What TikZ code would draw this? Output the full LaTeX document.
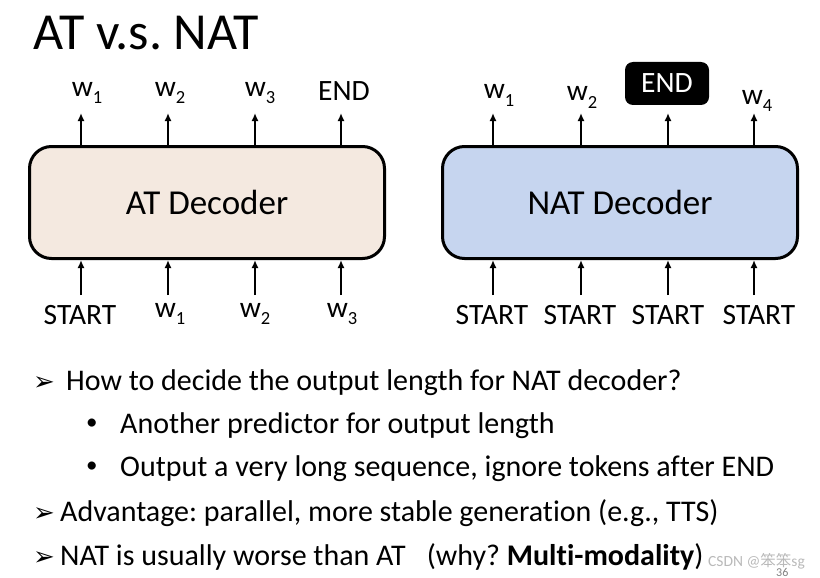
\documentclass[tikz,border=0pt]{standalone}
\usepackage{fontspec}
\setmainfont{Carlito}[Ligatures=NoCommon]
\newfontfamily\symfont{DejaVu Sans}
\newfontfamily\cjkfont{Noto Sans CJK SC}
\usetikzlibrary{arrows.meta}
\definecolor{atfill}{HTML}{F4E9E0}
\definecolor{natfill}{HTML}{C6D5EF}
\newcommand{\wsub}[1]{w\raisebox{-0.24em}{\fontsize{18.5}{20}\selectfont#1}}
\newcommand{\decoder}[4]{
	\node [dec, fill=#3] (#1) at (#2) {#4};}
\frenchspacing

\begin{document}
\begin{tikzpicture}[x=1pt,y=-1pt,
	dec/.style={draw, line width=3pt, rounded corners=22pt, minimum width=355pt, minimum height=112pt, font=\fontsize{35}{40}\selectfont},
	lab/.style={anchor=base, inner sep=0pt, font=\fontsize{29.5}{34}\selectfont},
	txt/.style={anchor=base west, inner sep=0pt, font=\fontsize{30}{34}\selectfont},
	arrowmark/.style={txt, font=\fontsize{26}{30}\selectfont\symfont},
	dot/.style={txt, font=\fontsize{23}{26}\selectfont},
	arr/.style={-{Latex[length=8pt,width=7pt]}, line width=2.4pt}]
	\useasboundingbox (0,0) rectangle (820,578);
	\node [anchor=base west, inner sep=0pt, font=\fontsize{52}{60}\selectfont] (title) at (33,50) {AT v.s. NAT};
	% the two decoders
	\decoder{at}{207,202.5}{atfill}{AT Decoder}
	\decoder{nat}{620,202.5}{natfill}{NAT Decoder}
	% arrows in and out
	\foreach \i/\x in {1/81,2/168,3/255,4/341} {
		\coordinate (attip\i) at (\x,113);
		\coordinate (attail\i) at (\x,295);
		\draw [arr] (at.north -| attip\i) -- (attip\i);
		\draw [arr] (attail\i) -- (at.south -| attail\i);
	}
	\foreach \i/\x in {1/493,2/581,3/668,4/754} {
		\coordinate (nattip\i) at (\x,113);
		\coordinate (nattail\i) at (\x,295);
		\draw [arr] (nat.north -| nattip\i) -- (nattip\i);
		\draw [arr] (nattail\i) -- (nat.south -| nattail\i);
	}
	% tokens
	\foreach \n/\x/\y/\t in {1/87/96/\wsub{1},2/170/96/\wsub{2},3/260/96/\wsub{3},4/344/101/END}
		\node [lab] (atout\n) at (\x,\y) {\t};
	\foreach \n/\x/\y/\t in {1/80/324/START,2/170/317/\wsub{1},3/255/317/\wsub{2},4/342/317/\wsub{3}}
		\node [lab] (atin\n) at (\x,\y) {\t};
	\foreach \n/\x/\y/\t in {1/499/99/\wsub{1},2/582/101/\wsub{2},4/757/104/\wsub{4}}
		\node [lab] (natout\n) at (\x,\y) {\t};
	\node [fill=black, text=white, rounded corners=8pt, minimum width=84pt, minimum height=43pt, inner sep=0pt, font=\fontsize{29.5}{34}\selectfont] (natout3) at (667,83.5) {END};
	\foreach \n/\x in {1/492,2/580,3/668,4/759}
		\node [lab] (natin\n) at (\x,324) {START};
	% bullet points
	\node [arrowmark] (b1) at (33,390) {➢};
	\node [txt] (l1) at (66,390) {How to decide the output length for NAT decoder?};
	\node [dot] (d1) at (86,429) {•};
	\node [txt] (l2) at (120,433) {Another predictor for output length};
	\node [dot] (d2) at (86,472) {•};
	\node [txt] (l3) at (120,476) {Output a very long sequence, ignore tokens after END};
	\node [arrowmark] (b2) at (33,521) {➢};
	\node [txt] (l4) at (60,521) {Advantage: parallel, more stable generation (e.g., TTS)};
	\node [arrowmark] (b3) at (33,565) {➢};
	\node [txt] (l5) at (60,565) {NAT is usually worse than AT\hspace{21pt}(why? \textbf{Multi-modality})};
	\node [anchor=base west, inner sep=0pt, text=gray!55, font=\fontsize{15.5}{18}\selectfont] (wmark) at (708,566) {CSDN @{\cjkfont 笨笨}sg};
	\node [anchor=base west, inner sep=0pt, text=gray, font=\fontsize{12}{14}\selectfont] (page) at (776,576) {36};
\end{tikzpicture}
\end{document}
